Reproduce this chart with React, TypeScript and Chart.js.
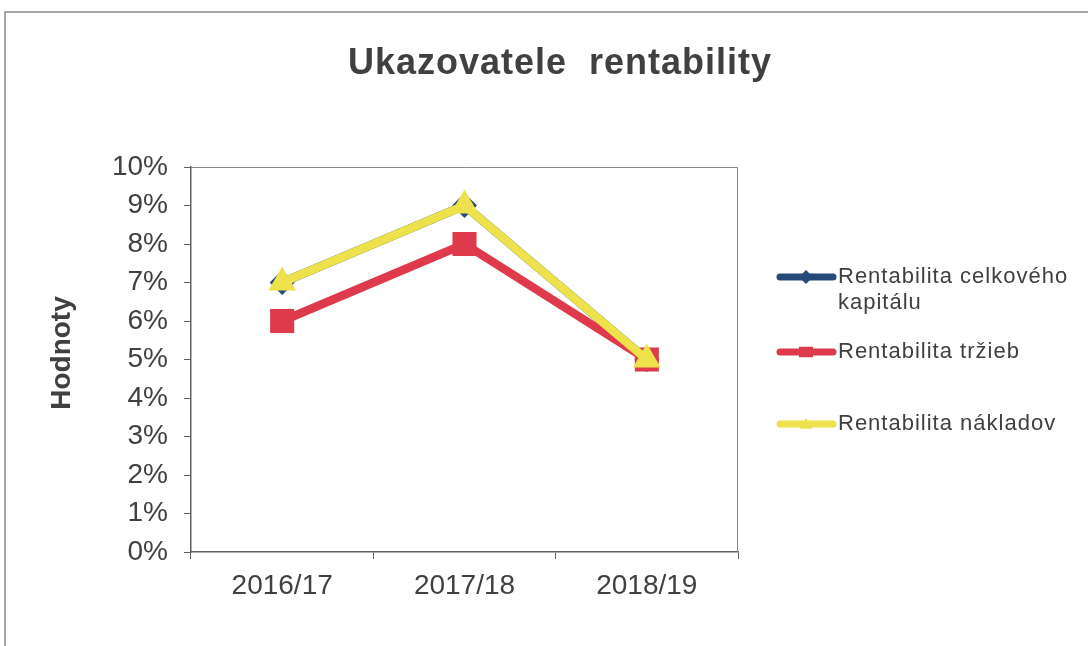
import React, { useEffect, useRef } from "react";
import { Chart, registerables } from "chart.js";

Chart.register(...registerables);

const categories = ["2016/17", "2017/18", "2018/19"];
const seriesNames = ["Rentabilita celkového kapitálu", "Rentabilita tržieb", "Rentabilita nákladov"];
const legendLines = [["Rentabilita celkového", "kapitálu"], ["Rentabilita tržieb"], ["Rentabilita nákladov"]];
const celkovehoKapitalu = [7, 9, 5];
const trzieb = [6, 8, 5];
const nakladov = [7, 9, 5];
const yTickValues = [0, 1, 2, 3, 4, 5, 6, 7, 8, 9, 10];
const chartTitle = "Ukazovatele  rentability";
const yAxisTitle = "Hodnoty";

const BLUE = "#26497a";
const RED = "#de3a4c";
const YELLOW = "#ede24c";
const TEXT = "#404040";
const AXIS = "#606060";
const FONT = "'Liberation Sans', Arial, sans-serif";

function drawMarker(ctx: CanvasRenderingContext2D, style: string, x: number, y: number, r: number, color: string) {
  ctx.save();
  ctx.fillStyle = color;
  ctx.beginPath();
  if (style === "rectRot") {
    ctx.moveTo(x, y - r);
    ctx.lineTo(x + r, y);
    ctx.lineTo(x, y + r);
    ctx.lineTo(x - r, y);
  } else if (style === "rect") {
    ctx.rect(x - r, y - r * 0.75, 2 * r, 1.5 * r);
  } else {
    const h = r * 1.5;
    ctx.moveTo(x, y - h * 0.6);
    ctx.lineTo(x + r * 0.9, y + h * 0.45);
    ctx.lineTo(x - r * 0.9, y + h * 0.45);
  }
  ctx.closePath();
  ctx.fill();
  ctx.restore();
}

const decorPlugin = {
  id: "decor",
  beforeDatasetsDraw(chart: any) {
    const { ctx, chartArea } = chart;
    ctx.save();
    ctx.strokeStyle = "#8a8a8a";
    ctx.lineWidth = 1;
    ctx.beginPath();
    ctx.moveTo(chartArea.left, chartArea.top + 0.5);
    ctx.lineTo(chartArea.right - 0.5, chartArea.top + 0.5);
    ctx.lineTo(chartArea.right - 0.5, chartArea.bottom);
    ctx.stroke();
    ctx.restore();
  },
  afterDraw(chart: any) {
    const { ctx } = chart;
    ctx.save();
    // outer frame
    ctx.strokeStyle = "#8c8c8c";
    ctx.lineWidth = 1.5;
    ctx.strokeRect(5, 12, 1100, 660);

    // title
    ctx.fillStyle = TEXT;
    ctx.font = `bold 36px ${FONT}`;
    (ctx as any).letterSpacing = "1px";
    ctx.textAlign = "center";
    ctx.textBaseline = "alphabetic";
    ctx.fillText(chartTitle, 560, 74);

    // y axis title
    (ctx as any).letterSpacing = "0px";
    ctx.save();
    ctx.translate(70, 353);
    ctx.rotate(-Math.PI / 2);
    ctx.font = `bold 28px ${FONT}`;
    ctx.textAlign = "center";
    ctx.textBaseline = "alphabetic";
    ctx.fillText(yAxisTitle, 0, 0);
    ctx.restore();

    // legend
    const colors = [BLUE, RED, YELLOW];
    const styles = ["rectRot", "rect", "triangle"];
    const ys = [277, 352, 424];
    for (let i = 0; i < seriesNames.length; i++) {
      const y = ys[i];
      ctx.strokeStyle = colors[i];
      ctx.lineWidth = 7;
      ctx.lineCap = "round";
      ctx.beginPath();
      ctx.moveTo(780, y);
      ctx.lineTo(833, y);
      ctx.stroke();
      drawMarker(ctx, styles[i], 806, y, 7, colors[i]);
      ctx.fillStyle = TEXT;
      ctx.font = `22px ${FONT}`;
      (ctx as any).letterSpacing = "1px";
      ctx.textAlign = "left";
      ctx.textBaseline = "middle";
      legendLines[i].forEach((line, j) => {
        ctx.fillText(line, 838, y + j * 26);
      });
      (ctx as any).letterSpacing = "0px";
    }
    ctx.restore();
  },
};

export default function App() {
  const canvasRef = useRef<HTMLCanvasElement | null>(null);

  useEffect(() => {
    if (!canvasRef.current) return;
    const chart = new Chart(canvasRef.current, {
      type: "line",
      data: {
        labels: categories,
        datasets: [
          {
            label: seriesNames[0],
            data: celkovehoKapitalu,
            borderColor: BLUE,
            backgroundColor: BLUE,
            borderWidth: 8.5,
            pointStyle: "rectRot",
            pointRadius: 12.5,
            pointBorderWidth: 0,
            order: 2,
          },
          {
            label: seriesNames[1],
            data: trzieb,
            borderColor: RED,
            backgroundColor: RED,
            borderWidth: 8.5,
            pointStyle: "rect",
            pointRadius: 17,
            pointBorderWidth: 0,
            order: 1,
          },
          {
            label: seriesNames[2],
            data: nakladov,
            borderColor: YELLOW,
            backgroundColor: YELLOW,
            borderWidth: 8.5,
            pointStyle: "triangle",
            pointRadius: 16,
            pointBorderWidth: 0,
            order: 0,
          },
        ],
      },
      options: {
        animation: false,
        responsive: false,
        maintainAspectRatio: false,
        devicePixelRatio: 1,
        layout: { padding: { left: 0, top: 167, right: 350, bottom: 0 } },
        plugins: {
          legend: { display: false },
          title: { display: false },
          tooltip: { enabled: false },
        },
        scales: {
          x: {
            type: "category",
            offset: true,
            grid: {
              offset: true,
              drawOnChartArea: false,
              drawTicks: true,
              tickLength: 7,
              color: AXIS,
            },
            border: { display: true, color: AXIS, width: 1.5 },
            ticks: {
              color: TEXT,
              font: { family: FONT, size: 28 },
              padding: 10,
              maxRotation: 0,
            },
            afterFit: (s: any) => {
              s.height = 94;
            },
          },
          y: {
            min: 0,
            max: 10,
            afterBuildTicks: (s: any) => {
              s.ticks = yTickValues.map((v) => ({ value: v }));
            },
            grid: {
              drawOnChartArea: false,
              drawTicks: true,
              tickLength: 7,
              color: AXIS,
            },
            border: { display: true, color: AXIS, width: 1.5 },
            ticks: {
              color: TEXT,
              font: { family: FONT, size: 28 },
              padding: 16,
              callback: (v: any) => `${v}%`,
            },
            afterFit: (s: any) => {
              s.width = 191;
            },
          },
        },
      },
      plugins: [decorPlugin],
    });
    return () => chart.destroy();
  }, []);

  return (
    <div style={{ position: "fixed", left: 0, top: 0, width: 1088, height: 646, background: "#fff" }}>
      <canvas ref={canvasRef} width={1088} height={646} style={{ width: 1088, height: 646, display: "block" }} />
    </div>
  );
}
